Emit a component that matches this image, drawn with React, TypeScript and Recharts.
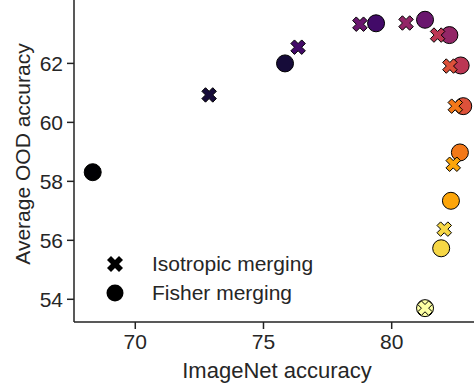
import { Scatter, ScatterChart, XAxis, YAxis } from "recharts";

// inferno colormap, 11 steps (shared by both merging methods)
const stepColors = [
  "#000004", "#160b39", "#420a68", "#6a176e", "#932667", "#bc3754",
  "#dd513a", "#f37819", "#fca50a", "#f6d746", "#fcffa4",
];

const isotropicImageNet = [68.34, 72.88, 76.35, 78.76, 80.56, 81.79, 82.27, 82.48, 82.40, 82.05, 81.30];
const isotropicOod = [58.31, 60.93, 62.55, 63.33, 63.37, 62.96, 61.91, 60.55, 58.58, 56.38, 53.70];

const fisherImageNet = [68.34, 75.84, 79.39, 81.30, 82.25, 82.69, 82.79, 82.66, 82.31, 81.93, 81.30];
const fisherOod = [58.31, 62.0, 63.36, 63.48, 62.96, 61.93, 60.55, 58.98, 57.34, 55.73, 53.70];

const xTicks = [70, 75, 80];
const yTicks = [54, 56, 58, 60, 62];

const isotropicData = isotropicImageNet.map((x, i) => ({ x, y: isotropicOod[i], color: stepColors[i] }));
const fisherData = fisherImageNet.map((x, i) => ({ x, y: fisherOod[i], color: stepColors[i] }));

const INK = "#262626";
const FONT = "'Liberation Sans', Arial, Helvetica, sans-serif";

// matplotlib's filled "X" marker
const xPoints = [
  [-1, -2], [0, -1], [1, -2], [2, -1], [1, 0], [2, 1],
  [1, 2], [0, 1], [-1, 2], [-2, 1], [-1, 0], [-2, -1],
];

function xPath(cx: number, cy: number, size: number) {
  const k = size / 4;
  return xPoints.map(([px, py], i) => `${i ? "L" : "M"}${cx + px * k},${cy + py * k}`).join("") + "Z";
}

function CrossMark(props: any) {
  const { cx, cy, payload } = props;
  return <path d={xPath(cx, cy, 14.5)} fill={payload.color} stroke="#000" strokeWidth={1} strokeLinejoin="miter" />;
}

function DotMark(props: any) {
  const { cx, cy, payload } = props;
  return <circle cx={cx} cy={cy} r={8.5} fill={payload.color} stroke="#000" strokeWidth={1} />;
}

function LegendBox() {
  const rows = [
    { name: "Isotropic merging", kind: "x" },
    { name: "Fisher merging", kind: "o" },
  ];
  return (
    <div style={{ position: "absolute", left: 105, top: 249.5, fontFamily: FONT, fontSize: 21, color: INK }}>
      {rows.map((r) => (
        <div key={r.name} style={{ display: "flex", alignItems: "center", height: 29, whiteSpace: "nowrap" }}>
          <svg width={20} height={20} style={{ marginRight: 27 }}>
            {r.kind === "x" ? (
              <path d={xPath(10, 10, 16)} fill="#000" />
            ) : (
              <circle cx={10} cy={10} r={8.5} fill="#000" />
            )}
          </svg>
          <span>{r.name}</span>
        </div>
      ))}
    </div>
  );
}

export default function App() {
  return (
    <div style={{ position: "absolute", left: 0, top: 0, width: 474, height: 383, background: "#fff" }}>
      <ScatterChart width={474} height={383} margin={{ top: 0, right: 0, bottom: 0, left: 0 }}>
        <XAxis
          type="number"
          dataKey="x"
          domain={[67.61, 83.21]}
          ticks={xTicks}
          allowDataOverflow
          height={61}
          stroke="#222"
          strokeWidth={1.5}
          tickSize={7}
          tickMargin={5}
          tick={{ fill: INK, fontSize: 21, fontFamily: FONT }}
          label={{
            content: () => (
              <text x={277} y={378} textAnchor="middle" fill={INK} fontSize={22} fontFamily={FONT}>
                ImageNet accuracy
              </text>
            ),
          }}
        />
        <YAxis
          type="number"
          dataKey="y"
          domain={[53.23, 64.15]}
          ticks={yTicks}
          allowDataOverflow
          width={74}
          stroke="#222"
          strokeWidth={1.5}
          tickSize={7}
          tickMargin={4}
          tick={{ fill: INK, fontSize: 21, fontFamily: FONT }}
          label={{
            content: () => (
              <text
                x={30}
                y={154}
                transform="rotate(-90 30 154)"
                textAnchor="middle"
                fill={INK}
                fontSize={21}
                fontFamily={FONT}
              >
                Average OOD accuracy
              </text>
            ),
          }}
        />
        <Scatter name="Fisher merging" data={fisherData} shape={(p: any) => <DotMark {...p} />} isAnimationActive={false} />
        <Scatter name="Isotropic merging" data={isotropicData} shape={(p: any) => <CrossMark {...p} />} isAnimationActive={false} />
      </ScatterChart>
      <LegendBox />
    </div>
  );
}
